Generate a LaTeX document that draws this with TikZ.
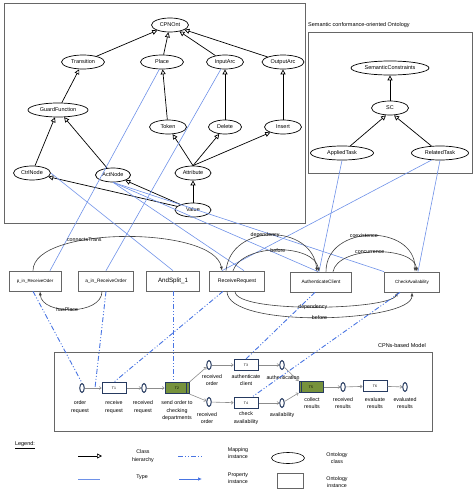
\documentclass[tikz,border=0pt]{standalone}
\usepackage{fontspec}
\setmainfont{Liberation Sans}
\usetikzlibrary{arrows.meta,shapes.geometric}

\definecolor{typeblue}{RGB}{110,145,232}
\definecolor{mapblue}{RGB}{72,116,226}
\definecolor{cpngreen}{RGB}{118,146,60}
\definecolor{cpnnavy}{RGB}{38,58,96}

\tikzset{
    cls/.style={ellipse, draw, line width=0.7pt, inner sep=0pt, minimum height=14pt, font=\fontsize{5.5}{6}\selectfont},
    inst/.style={rectangle, draw=black!60, line width=0.7pt, inner sep=0pt, minimum height=20pt, font=\fontsize{4.8}{5}\selectfont},
    isa/.style={draw, line width=0.7pt, -{Triangle[open, length=5pt, width=5pt]}},
    typeof/.style={draw=typeblue, line width=0.6pt},
    mapsto/.style={draw=mapblue, line width=0.9pt, dash pattern=on 5pt off 2pt on 1pt off 2pt on 1pt off 2pt},
    prop/.style={draw=black!75, line width=0.6pt, -{Latex[length=4pt, width=3pt]}},
    proplbl/.style={font=\fontsize{5.3}{6}\selectfont, inner sep=0pt},
    cpnplace/.style={ellipse, draw=cpnnavy, line width=1pt, minimum width=4.5pt, minimum height=9pt, inner sep=0pt},
    cpntrans/.style={rectangle, draw=cpnnavy, line width=1pt, fill=white, minimum width=24pt, minimum height=11pt, inner sep=0pt, font=\fontsize{3.5}{4}\selectfont},
    cpnarc/.style={draw=black!45, line width=0.6pt, -{To[length=2.5pt, width=3.5pt]}},
    cpnlbl/.style={align=center, font=\fontsize{5.3}{7.5}\selectfont, inner sep=0pt},
    framebox/.style={draw=black!60, line width=0.8pt}
}

\begin{document}
\begin{tikzpicture}[x=1pt, y=-1pt]
    \useasboundingbox (0,0) rectangle (474,490);

    \begin{scope} %CPN ontology
        \draw[framebox] (4,3) rectangle (305,223);
        \begin{scope}[every node/.style={cls}]
            \node[minimum width=37pt] (cpnont) at (170,25) {CPNOnt};
            \node[minimum width=43pt] (transition) at (83,62) {Transition};
            \node[minimum width=43pt] (place) at (162,62) {Place};
            \node[minimum width=37pt] (inputarc) at (225,62) {InputArc};
            \node[minimum width=42pt] (outputarc) at (283,62) {OutputArc};
            \node[minimum width=60pt] (guard) at (58,110) {GuardFunction};
            \node[minimum width=37pt] (token) at (168,127) {Token};
            \node[minimum width=33pt] (delete) at (225,127) {Delete};
            \node[minimum width=37pt] (insert) at (283,127) {Insert};
            \node[minimum width=37pt] (ctrlnode) at (32,173) {CtrlNode};
            \node[minimum width=35pt] (actnode) at (113,175) {ActNode};
            \node[minimum width=36pt] (attribute) at (193,173) {Attribute};
            \node[minimum width=36pt] (value) at (193,210) {Value};
        \end{scope}
        \begin{scope}[every edge/.style={isa}]
            \path (transition) edge (cpnont);
            \path (place) edge (cpnont);
            \path (inputarc) edge (cpnont);
            \path (outputarc) edge (cpnont);
            \path (guard) edge (transition);
            \path (token) edge (place);
            \path (delete) edge (inputarc);
            \path (insert) edge (outputarc);
            \path (ctrlnode) edge (guard);
            \path (actnode) edge (guard);
            \path (attribute.north) edge (token);
            \path (attribute.north) edge (delete);
            \path (attribute.north) edge (insert);
            \path (value) edge (attribute);
            \path (value) edge (ctrlnode);
            \path (value) edge (actnode);
        \end{scope}
    \end{scope}

    \begin{scope} %semantic ontology
        \draw[framebox] (308,32) rectangle (472,173);
        \node[anchor=west, font=\fontsize{5.5}{6}\selectfont, inner sep=0pt] (semtitle) at (308,25) {Semantic conformance-oriented Ontology};
        \begin{scope}[every node/.style={cls}]
            \node[minimum width=78pt] (semcons) at (390,68) {SemanticConstraints};
            \node[minimum width=37pt] (sc) at (390,108) {SC};
            \node[minimum width=63pt] (applied) at (342,153) {AppliedTask};
            \node[minimum width=57pt] (related) at (440,153) {RelatedTask};
        \end{scope}
        \begin{scope}[every edge/.style={isa}]
            \path (sc) edge (semcons);
            \path (applied) edge ([xshift=-4pt]sc.south);
            \path (related) edge ([xshift=4pt]sc.south);
        \end{scope}
    \end{scope}

    \begin{scope} %instances
        \begin{scope}[every node/.style={inst}]
            \node[minimum width=52pt, font=\fontsize{4.4}{5}\selectfont] (pin) at (35,281) {p\_in\_ReceiveOder};
            \node[minimum width=55pt] (ain) at (106,281) {a\_in\_ReceiveOrder};
            \node[minimum width=53pt, font=\fontsize{6.2}{7}\selectfont] (andsplit) at (173,281) {AndSplit\_1};
            \node[minimum width=55pt, font=\fontsize{5.2}{6}\selectfont] (recreq) at (237,281) {ReceiveRequest};
            \node[minimum width=61pt] (authcl) at (321,282) {AuthenticateClient};
            \node[minimum width=55pt, font=\fontsize{4.5}{5}\selectfont] (checkav) at (412,282) {CheckAvailability};
        \end{scope}
        \begin{scope}[every edge/.style={typeof}]
            \path (place.250) edge ([xshift=15pt]pin.north);
            \path (inputarc.240) edge (ain.north);
            \path (ctrlnode.east) edge (andsplit.north);
            \path (actnode.south) edge ([xshift=7pt]recreq.north);
            \path (actnode.south) edge ([xshift=-3pt]authcl.north);
            \path (actnode.south) edge (checkav.north west);
            \path (applied.south) edge ([xshift=-2pt]authcl.north);
            \path (related.220) edge ([xshift=-15pt]recreq.north);
            \path (related.south) edge ([xshift=6pt]checkav.north);
        \end{scope}
        % property instances
        \draw[prop] ([xshift=-2pt]pin.north) .. controls +(0,-45) and +(-8,-45) .. ([xshift=-15pt]recreq.north)
            node[proplbl, pos=.35] (lblconn) {connectsTrans};
        \draw[prop] ([xshift=-4pt]ain.south) .. controls +(0,24) and +(2,24) .. ([xshift=5pt]pin.south)
            node[proplbl, pos=.55] (lblhas) {hasPlace};
        \draw[prop] ([xshift=-11pt]recreq.north) .. controls +(5,-48) and +(-5,-48) .. ([xshift=-4pt]authcl.north)
            node[proplbl, pos=.45] (lbldep) {dependency};
        \draw[prop] ([xshift=-4pt]recreq.north) .. controls +(10,-28) and +(-5,-28) .. ([xshift=-2pt]authcl.north)
            node[proplbl, pos=.5] (lblbef) {before};
        \draw[prop] ([xshift=5pt]authcl.north) .. controls +(0,-48) and +(0,-48) .. ([xshift=3pt]checkav.north)
            node[proplbl, pos=.45] (lblcoex) {coexistence};
        \draw[prop] ([xshift=12pt]authcl.north) .. controls +(5,-26) and +(-3,-26) .. ([xshift=5pt]checkav.north)
            node[proplbl, pos=.45] (lblconc) {concurrence};
        \draw[prop] ([xshift=-2pt]recreq.south) .. controls +(0,22) and +(-10,18) .. ([xshift=-14pt]checkav.south)
            node[proplbl, pos=.5] (lbldep2) {dependency};
        \draw[prop] ([xshift=-10pt]recreq.south) .. controls +(0,38) and +(0,30) .. (checkav.south)
            node[proplbl, pos=.5] (lblbef2) {before};
    \end{scope}

    \begin{scope} %CPN model
        \draw[framebox] (54,352) rectangle (432,431);
        \node[anchor=east, font=\fontsize{5.5}{6}\selectfont, inner sep=0pt] (cpntitle) at (426,346) {CPNs-based Model};
        \begin{scope}[every node/.style={cpnplace}]
            \node (oreq) at (82,388) {};
            \node (rreq) at (144,388) {};
            \node (rorder1) at (209,365) {};
            \node (rorder2) at (209,402) {};
            \node (authn) at (282,365) {};
            \node (avail) at (282,403) {};
            \node (rres) at (343,387) {};
            \node (evres) at (405,387) {};
        \end{scope}
        \begin{scope}[every node/.style={cpntrans}]
            \node (t1) at (114,388) {T1};
            \node[fill=cpngreen] (t2) at (177,388) {T2};
            \node (t3) at (246,365) {T3};
            \node (t4) at (246,403) {T4};
            \node[fill=cpngreen] (t5) at (311,387) {T5};
            \node (t6) at (375,386) {T6};
        \end{scope}
        \draw[cpnnavy, line width=0.6pt] ([xshift=-3pt]t2.north east) -- ([xshift=-3pt]t2.south east);
        \draw[cpnnavy, line width=0.6pt] ([xshift=3pt]t5.north west) -- ([xshift=3pt]t5.south west);
        \begin{scope}[every edge/.style={cpnarc}]
            \path (oreq) edge (t1);
            \path (t1) edge (rreq);
            \path (rreq) edge (t2);
            \path (t2.north east) edge (rorder1);
            \path (t2.south east) edge (rorder2);
            \path (rorder1) edge (t3);
            \path (rorder2) edge (t4);
            \path (t3) edge (authn);
            \path (t4) edge (avail);
            \path (authn) edge (t5.north west);
            \path (avail) edge (t5.south west);
            \path (t5) edge (rres);
            \path (rres) edge (t6);
            \path (t6) edge (evres);
        \end{scope}
        \begin{scope}[every node/.style={cpnlbl}]
            \node (loreq) at (80,407) {order\\request};
            \node (lt1) at (114,407) {receive\\request};
            \node (lrreq) at (143,407) {received\\request};
            \node (lt2) at (177,411) {send order to\\checking\\departments};
            \node (lrorder1) at (212,380) {received\\order};
            \node (lrorder2) at (207,418) {received\\order};
            \node (lt3) at (246,380) {authenticate\\client};
            \node (lt4) at (246,418) {check\\availability};
            \node (lauthn) at (283,378) {authentication};
            \node (lavail) at (282,415) {availability};
            \node (lt5) at (312,403) {collect\\results};
            \node (lrres) at (343,403) {received\\results};
            \node (lt6) at (375,403) {evaluate\\results};
            \node (levres) at (405,403) {evaluated\\results};
        \end{scope}
    \end{scope}

    \begin{scope}[every edge/.style={mapsto}] %mapping instances
        \coordinate (arcin) at (95,388);
        \path ([xshift=-2pt]pin.south) edge (oreq.north);
        \path (ain.south) edge (arcin);
        \path (andsplit.south) edge ([xshift=-4pt]t2.north);
        \path ([xshift=-14pt]recreq.south) edge (t1.north);
        \path ([xshift=-6pt]authcl.south) edge (t3.north);
        \path ([xshift=-12pt]checkav.south) edge ([xshift=6pt]t4.north);
    \end{scope}

    \begin{scope} %legend
        \node[font=\fontsize{5.5}{6}\selectfont, inner sep=0pt] (legend) at (25,445) {\underline{Legend:}};
        \coordinate (isaa) at (78,456);
        \coordinate (isab) at (102,456);
        \coordinate (typa) at (78,479);
        \coordinate (typb) at (100,479);
        \coordinate (mapa) at (178,456);
        \coordinate (mapb) at (202,456);
        \coordinate (prpa) at (179,479);
        \coordinate (prpb) at (202,479);
        \path (isaa) edge[isa] (isab);
        \path (typa) edge[typeof] (typb);
        \path (mapa) edge[mapsto] (mapb);
        \path (prpa) edge[draw=mapblue, line width=0.7pt, -{Latex[length=4pt, width=3.5pt]}] (prpb);
        \node[ellipse, draw, line width=0.6pt, minimum width=33pt, minimum height=11pt, inner sep=0pt] (lgcls) at (288,458) {};
        \node[rectangle, draw=black!60, line width=0.6pt, minimum width=26pt, minimum height=15pt, inner sep=0pt] (lginst) at (290,481) {};
        \begin{scope}[every node/.style={cpnlbl}]
            \node (lgisa) at (143,456) {Class\\hierarchy};
            \node (lgtyp) at (142,477) {Type};
            \node (lgmap) at (238,453) {Mapping\\instance};
            \node (lgprp) at (238,478) {Property\\instance};
            \node (lgclst) at (337,458) {Ontology\\class};
            \node (lginstt) at (337,482) {Ontology\\instance};
        \end{scope}
    \end{scope}

\end{tikzpicture}
\end{document}
